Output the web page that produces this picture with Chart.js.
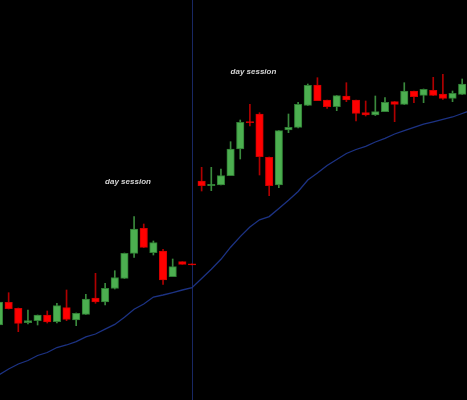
<!DOCTYPE html>
<html lang="en">
<head>
    <meta charset="UTF-8">
    <title>Candles</title>
    <script src="https://cdn.jsdelivr.net/npm/chart.js@4.4.0/dist/chart.umd.min.js"></script>
    <style>
        body {
            margin: 0;
            background-color: #000;
        }
        .wrap {
            width: 467px;
            height: 400px;
            position: relative;
        }
    </style>
</head>
<body>
    <div class="wrap">
        <canvas id="chart"></canvas>
    </div>

    <script>
        // OHLC per bar (bar index 0..48)
        const opens  = [75, 97.7, 91.7, 77.3, 79.3, 85, 78.3, 92.3, 80, 85.7, 102, 98, 111.5, 121.7, 146.7, 171.7, 147.3, 149, 123.3, 138.3, 136.2,
                        219, 214.3, 215, 224.3, 251, 278.3, 286, 242.7, 215, 270, 272.7, 294.7, 315, 300, 293.3, 304, 300, 287.3, 285, 288.3, 298.3, 295.7, 309, 304.7, 309.7, 306, 301.7, 305.7];
        const highs  = [98, 107.3, 92, 90, 85, 89, 96.7, 110, 87, 105.7, 126.7, 116.7, 129.3, 147, 183.3, 176, 159, 150.7, 141, 138.3, 136.2,
                        232.7, 232.7, 231, 258.3, 280, 295.7, 287.3, 243, 269.5, 286, 297.7, 316, 322.3, 300, 304.5, 317.3, 300, 299, 304, 302.3, 298.5, 317.3, 309, 311, 322.7, 325.7, 309, 321];
        const lows   = [75, 91, 68.3, 76, 75, 77, 77, 79.3, 74.3, 85.5, 96.7, 95, 111, 121.5, 142.7, 152.5, 145, 115.7, 123.3, 135.7, 135.2,
                        209, 209.3, 215, 224.3, 241, 274, 225, 204.3, 212.3, 267.3, 272, 294.5, 299.3, 291.7, 289.3, 298.3, 279, 284, 284.5, 288.3, 278.3, 295.5, 297.3, 297.3, 304.5, 300.7, 298.3, 305.5];
        const closes = [98, 91.3, 76.7, 79.3, 85, 78, 94.3, 80.7, 86.7, 101, 98, 111.7, 122.5, 146.7, 171, 152.7, 157.3, 120, 133.3, 135.7, 135.2,
                        214.3, 215.7, 224.3, 251, 277.7, 277.3, 243.3, 214.3, 269.3, 272.7, 295.7, 314.7, 299.3, 293.3, 304.3, 300, 286.7, 285, 288.3, 297.7, 295.7, 309, 303.3, 310.7, 304.7, 301.7, 306.7, 316];
        // moving average (one extra point past the last bar)
        const maValues = [25.2, 31, 36, 39.5, 44.5, 47.5, 52.5, 55, 58.3, 63.2, 66, 70.8, 75.6, 82.8, 90.7, 96, 103, 105, 107.4, 110, 112.3,
                          121.5, 130.8, 140.7, 152.8, 163.4, 173, 180.2, 183.4, 191.6, 199.8, 208.5, 220, 227, 234.5, 240.5, 246.5, 250.5, 253.7,
                          258, 261.7, 266, 269.3, 272.7, 275.8, 278.2, 280.6, 283, 286.5, 290];
        const sessionBreaks = [20];
        const sessionLabels = [
            { text: 'day session', x: 13.37, y: 218.5 },
            { text: 'day session', x: 26.37, y: 328 }
        ];

        const up = closes.map((c, i) => c >= opens[i]);
        const bodyData = opens.map((o, i) => ({ x: i, y: [o, closes[i]] }));
        const wickData = lows.map((l, i) => ({ x: i, y: [l, highs[i]] }));
        const maData = maValues.map((v, i) => ({ x: i, y: v }));

        const overlayPlugin = {
            id: 'overlay',
            beforeDatasetsDraw(chart) {
                const ctx = chart.ctx;
                const xs = chart.scales.x;
                ctx.save();
                ctx.strokeStyle = '#182763';
                ctx.lineWidth = 1;
                sessionBreaks.forEach(b => {
                    const px = Math.round(xs.getPixelForValue(b)) + 0.5;
                    ctx.beginPath();
                    ctx.moveTo(px, 0);
                    ctx.lineTo(px, chart.height);
                    ctx.stroke();
                });
                ctx.restore();
            },
            afterDatasetsDraw(chart) {
                const ctx = chart.ctx;
                ctx.save();
                ctx.font = 'italic bold 8px "Liberation Sans", Arial, sans-serif';
                ctx.fillStyle = '#d4d4d4';
                ctx.textAlign = 'center';
                ctx.textBaseline = 'middle';
                sessionLabels.forEach(l => {
                    ctx.fillText(l.text, chart.scales.x.getPixelForValue(l.x), chart.scales.y.getPixelForValue(l.y));
                });
                ctx.restore();
            }
        };

        new Chart(document.getElementById('chart'), {
            type: 'bar',
            data: {
                datasets: [
                    {
                        type: 'line',
                        data: maData,
                        borderColor: '#1c3283',
                        borderWidth: 1.3,
                        pointRadius: 0,
                        tension: 0,
                        order: 1
                    },
                    {
                        data: bodyData,
                        backgroundColor: up.map(u => u ? '#4caf50' : '#ff0000'),
                        borderColor: up.map(u => u ? '#2f7d33' : '#d00000'),
                        borderWidth: 1,
                        borderSkipped: false,
                        barThickness: 7.5,
                        grouped: false,
                        order: 2
                    },
                    {
                        data: wickData,
                        backgroundColor: up.map(u => u ? '#3a8a3d' : '#b00000'),
                        borderWidth: 0,
                        barThickness: 1,
                        grouped: false,
                        order: 3
                    }
                ]
            },
            options: {
                responsive: true,
                maintainAspectRatio: false,
                animation: false,
                layout: { padding: 0 },
                plugins: {
                    legend: { display: false },
                    tooltip: { enabled: false }
                },
                scales: {
                    x: {
                        type: 'linear',
                        min: 0.104,
                        max: 48.5,
                        offset: false,
                        display: false
                    },
                    y: {
                        min: 0,
                        max: 400,
                        display: false
                    }
                }
            },
            plugins: [overlayPlugin]
        });
    </script>
</body>
</html>
